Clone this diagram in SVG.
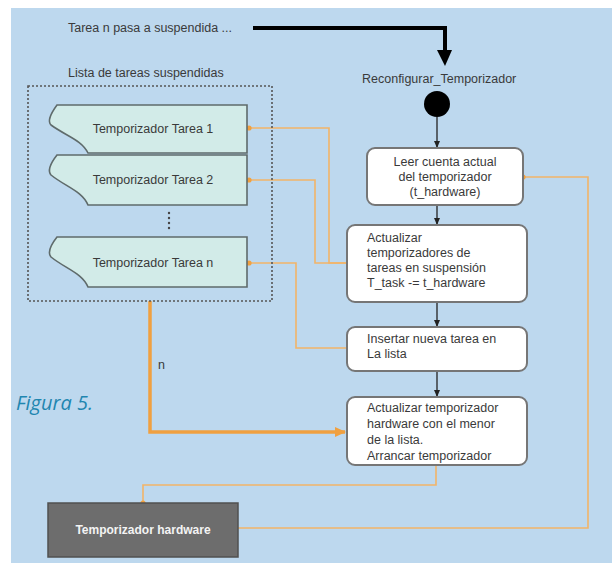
<svg xmlns="http://www.w3.org/2000/svg" width="612" height="563" viewBox="0 0 612 563">
<style>
.t{font-family:"Liberation Sans",Arial,sans-serif;font-size:12.5px;fill:#3a3a3a}
.bx{fill:#ffffff;stroke:#767676;stroke-width:2}
.tk{fill:#d2ebe8;stroke:#5f6b6b;stroke-width:1.6}
.or{fill:none;stroke:#f2b468;stroke-width:1.6}
.fl{fill:none;stroke:#222;stroke-width:1.3}
</style>
<defs>
<marker id="ah" markerWidth="8" markerHeight="8" refX="7" refY="4" orient="auto" markerUnits="userSpaceOnUse"><path d="M0,1 L7,4 L0,7 Z" fill="#222"/></marker>
<marker id="ao" markerWidth="12" markerHeight="12" refX="10" refY="6" orient="auto" markerUnits="userSpaceOnUse"><path d="M0,1 L11,6 L0,11 Z" fill="#f0a040"/></marker>
<marker id="dot" markerWidth="6" markerHeight="6" refX="3" refY="3" markerUnits="userSpaceOnUse"><circle cx="3" cy="3" r="2.6" fill="#f0a040"/></marker>
</defs>
<rect x="11" y="8" width="601" height="555" fill="#bdd8ee"/>
<text x="68" y="32" class="t" font-size="12">Tarea n pasa a suspendida ...</text>
<text x="68" y="77" class="t" font-size="12">Lista de tareas suspendidas</text>
<text x="362" y="83" class="t" font-size="12">Reconfigurar_Temporizador</text>
<text x="16" y="410" font-family="'Open Sans',sans-serif" font-style="italic" font-size="20" fill="#1f86b0">Figura 5.</text>
<text x="158" y="369" class="t" font-size="11">n</text>

<g id="connectors">
<path d="M253,28 H445 V52" fill="none" stroke="#000" stroke-width="4"/>
<path d="M437,50 L452,50 L445,66 Z" fill="#000"/>
<line x1="437" y1="117" x2="437" y2="148" class="fl" marker-end="url(#ah)"/>
<line x1="437" y1="205" x2="437" y2="225" class="fl" marker-end="url(#ah)"/>
<line x1="437" y1="302" x2="437" y2="327" class="fl" marker-end="url(#ah)"/>
<line x1="437" y1="371" x2="437" y2="397" class="fl" marker-end="url(#ah)"/>
<path d="M249,128 H329 V263 H347" class="or" marker-start="url(#dot)"/>
<path d="M249,180 H315 V263 H347" class="or" marker-start="url(#dot)"/>
<path d="M249,263 H296 V348 H347" class="or" marker-start="url(#dot)"/>
<path d="M150,301 V432 H345" fill="none" stroke="#f0a040" stroke-width="3.5" marker-end="url(#ao)"/>
<path d="M436,465 V485 H143 V503" class="or" marker-end="url(#dot)"/>
<path d="M238,528 H588 V177 H523" class="or" marker-end="url(#dot)"/>
</g>

<g id="start"><circle cx="437" cy="104" r="13" fill="#000"/></g>

<g id="lista">
<rect x="28" y="86" width="244" height="215" fill="none" stroke="#555" stroke-width="1.6" stroke-dasharray="2,2"/>
<circle cx="169" cy="213" r="1.2" fill="#444"/><circle cx="169" cy="218" r="1.2" fill="#444"/><circle cx="169" cy="223" r="1.2" fill="#444"/><circle cx="169" cy="228" r="1.2" fill="#444"/>
</g>

<g id="tarea1">
<path class="tk" d="M57,105 H247 V153 H88 C82,140 66,136 51,125 Q46,120 57,105 Z"/>
<text x="153" y="133" class="t" text-anchor="middle">Temporizador Tarea 1</text>
</g>
<g id="tarea2">
<path class="tk" d="M57,155 H247 V205 H88 C82,191 66,187 51,175 Q46,169 57,155 Z"/>
<text x="153" y="184" class="t" text-anchor="middle">Temporizador Tarea 2</text>
</g>
<g id="tarean">
<path class="tk" d="M57,237 H247 V287 H88 C82,273 66,269 51,257 Q46,251 57,237 Z"/>
<text x="153" y="267" class="t" text-anchor="middle">Temporizador Tarea n</text>
</g>

<g id="leer">
<rect x="367" y="148" width="156" height="57" rx="8" class="bx"/>
<text class="t" text-anchor="middle"><tspan x="445" y="166">Leer cuenta actual</tspan><tspan x="445" y="181">del temporizador</tspan><tspan x="445" y="196">(t_hardware)</tspan></text>
</g>
<g id="actualizar">
<rect x="347" y="225" width="180" height="77" rx="8" class="bx"/>
<text class="t"><tspan x="367" y="242">Actualizar</tspan><tspan x="367" y="257">temporizadores de</tspan><tspan x="367" y="272">tareas en suspensión</tspan><tspan x="367" y="287">T_task -= t_hardware</tspan></text>
</g>
<g id="insertar">
<rect x="347" y="327" width="180" height="44" rx="8" class="bx"/>
<text class="t"><tspan x="367" y="343">Insertar nueva tarea en</tspan><tspan x="367" y="358">La lista</tspan></text>
</g>
<g id="arrancar">
<rect x="347" y="397" width="180" height="68" rx="8" class="bx"/>
<text class="t"><tspan x="367" y="412">Actualizar temporizador</tspan><tspan x="367" y="428">hardware con el menor</tspan><tspan x="367" y="444">de la lista.</tspan><tspan x="367" y="460">Arrancar temporizador</tspan></text>
</g>
<g id="hardware">
<rect x="48" y="503" width="190" height="54" fill="#6d6d6d" stroke="#505050" stroke-width="1.5"/>
<text x="143" y="534" font-family="'Liberation Sans',Arial,sans-serif" font-weight="bold" font-size="12" fill="#f4f4f4" text-anchor="middle">Temporizador hardware</text>
</g>
</svg>
